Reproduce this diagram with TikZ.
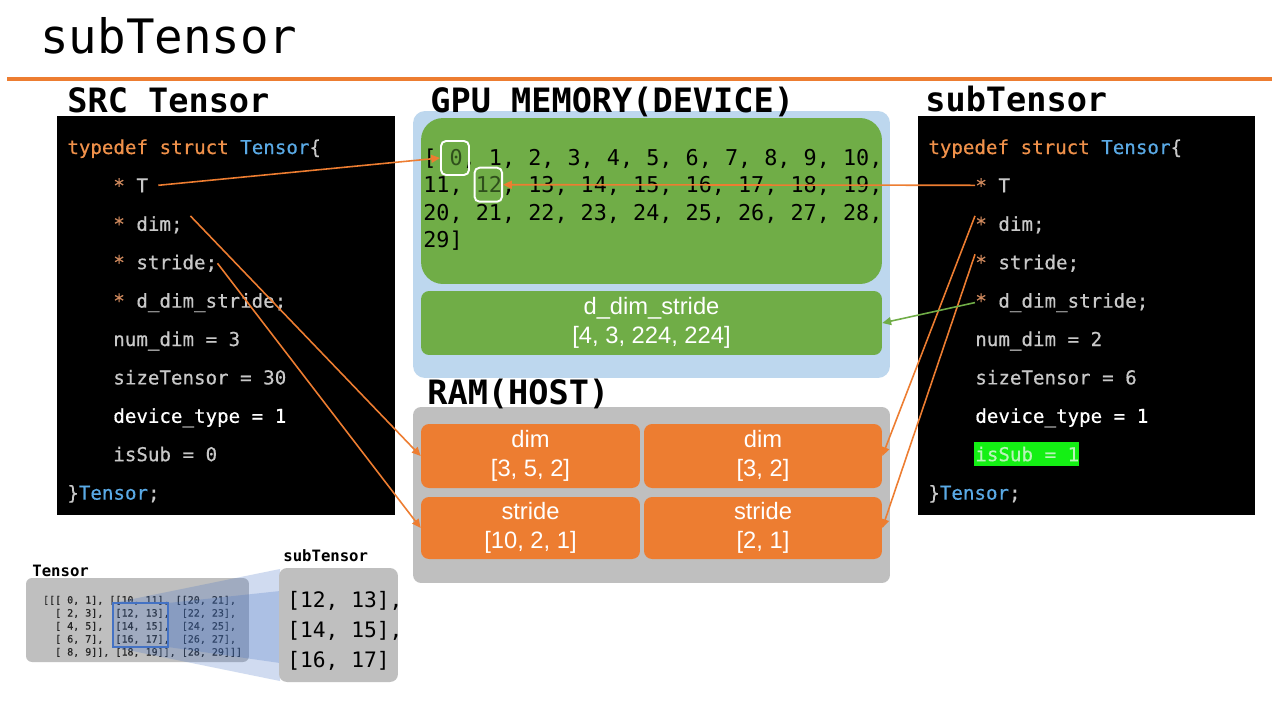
\documentclass[tikz,border=0pt]{standalone}
\usepackage{fontspec}
\newfontfamily\mono{DejaVu Sans Mono}
\newfontfamily\codefont[FakeBold=0.5]{DejaVu Sans Mono}
\newfontfamily\lab{Liberation Sans}
\usetikzlibrary{arrows.meta}
\definecolor{orng}{HTML}{ED7D31}
\definecolor{kw}{HTML}{F0914A}
\definecolor{star}{HTML}{D08A5E}
\definecolor{tblue}{HTML}{5AAAE6}
\definecolor{cgray}{HTML}{C8C8C8}
\definecolor{gpublue}{HTML}{BDD7EE}
\definecolor{gpugreen}{HTML}{70AD47}
\definecolor{dkgreen}{HTML}{2F4F1C}
\definecolor{ramgray}{HTML}{BFBFBF}
\definecolor{hlgreen}{HTML}{14F014}
\definecolor{hltext}{HTML}{B8F5B8}
\definecolor{zblue}{HTML}{4472C4}
\begin{document}
\begin{tikzpicture}[x=0.02cm,y=-0.02cm]
\tikzset{
  code/.style={anchor=base west, inner sep=0pt, font=\codefont\fontsize{10.9}{13}\selectfont, text=cgray},
  head/.style={anchor=base west, inner sep=0pt, font=\mono\bfseries\fontsize{19.1}{22}\selectfont},
  arrtxt/.style={anchor=base west, inner sep=0pt, font=\mono\fontsize{12.4}{15}\selectfont, text=black},
  mtx/.style={anchor=base west, inner sep=0pt, font=\codefont\fontsize{5.7}{7}\selectfont, text=black!85},
  bigmtx/.style={anchor=base west, inner sep=0pt, font=\mono\fontsize{12.1}{14}\selectfont, text=black},
  smallhead/.style={anchor=base west, inner sep=0pt, font=\mono\bfseries\fontsize{8.9}{10}\selectfont},
  panel/.style={fill=black, inner sep=0pt},
  membox/.style={inner sep=0pt, align=center, text=white, font=\lab\fontsize{13.5}{16.2}\selectfont},
  valbox/.style={draw=white, line width=1.1pt, rounded corners=0.1cm, inner sep=0pt, minimum width=0.56cm, minimum height=0.68cm},
  link/.style={draw=orng, line width=0.9pt, -{Triangle[length=5pt,width=4.5pt]}},
  glink/.style={draw=gpugreen, line width=0.9pt, -{Triangle[length=5pt,width=4.5pt]}},
}
\useasboundingbox[fill=white] (0,0) rectangle (1280,720);

% title and rule
\node[anchor=base west, inner sep=0pt, font=\mono\fontsize{27}{30}\selectfont] (title) at (40,53) {subTensor};
\draw[orng, line width=2.2pt] (7,79) -- (1272,79);

% GPU memory
\node[fill=gpublue, rounded corners=0.24cm, minimum width=9.54cm, minimum height=5.34cm, inner sep=0pt] (gpu) at (651.5,244.5) {};
\node[fill=gpugreen, rounded corners=0.44cm, minimum width=9.22cm, minimum height=3.32cm, inner sep=0pt] (arrbox) at (651.5,201) {};
\node[membox, fill=gpugreen, rounded corners=0.16cm, minimum width=9.22cm, minimum height=1.28cm] (dds) at (651.5,323) {d\_dim\_stride\\{}[4, 3, 224, 224]};

\node[arrtxt] (a1) at (423,165) {[ \textcolor{dkgreen}{0}, 1, 2, 3, 4, 5, 6, 7, 8, 9, 10,};
\node[arrtxt] (a2) at (423,192.5) {11, \textcolor{dkgreen}{12}, 13, 14, 15, 16, 17, 18, 19,};
\node[arrtxt] (a3) at (423,220) {20, 21, 22, 23, 24, 25, 26, 27, 28,};
\node[arrtxt] (a4) at (423,247.5) {29]};
\node[valbox] (zero) at (455,158) {};
\node[valbox, minimum width=0.55cm] (twelve) at (488.3,184.7) {};

% RAM
\node[fill=ramgray, rounded corners=0.16cm, minimum width=9.54cm, minimum height=3.52cm, inner sep=0pt] (ram) at (651.5,495) {};
\node[membox, fill=orng, rounded corners=0.16cm, minimum width=4.38cm, minimum height=1.28cm] (dimL) at (530.5,456) {dim\\{}[3, 5, 2]};
\node[membox, fill=orng, rounded corners=0.16cm, minimum width=4.76cm, minimum height=1.28cm] (dimR) at (763,456) {dim\\{}[3, 2]};
\node[membox, fill=orng, rounded corners=0.16cm, minimum width=4.38cm, minimum height=1.24cm] (strL) at (530.5,528) {stride\\{}[10, 2, 1]};
\node[membox, fill=orng, rounded corners=0.16cm, minimum width=4.76cm, minimum height=1.24cm] (strR) at (763,528) {stride\\{}[2, 1]};

% SRC Tensor panel
\node[panel, minimum width=6.76cm, minimum height=7.98cm] (srcpanel) at (226,315.5) {};
\node[code] (l0) at (67,154) {\textcolor{kw}{typedef struct} \textcolor{tblue}{Tensor}\{};
\node[code] (lT) at (113,192.4) {\textcolor{star}{*} T};
\node[code] (ldim) at (113,230.8) {\textcolor{star}{*} dim;};
\node[code] (lstr) at (113,269.2) {\textcolor{star}{*} stride;};
\node[code] (ldds) at (113,307.6) {\textcolor{star}{*} d\_dim\_stride;};
\node[code] (lnum) at (113,346) {num\_dim = 3};
\node[code] (lsize) at (113,384.4) {sizeTensor = 30};
\node[code, text=white] (ldev) at (113,422.8) {device\_type = 1};
\node[code] (lsub) at (113,461.2) {isSub = 0};
\node[code] (lend) at (67,499.6) {\}\textcolor{tblue}{Tensor};};

% subTensor panel
\node[panel, minimum width=6.74cm, minimum height=7.98cm] (subpanel) at (1086.5,315.5) {};
\node[code] (r0) at (928,154) {\textcolor{kw}{typedef struct} \textcolor{tblue}{Tensor}\{};
\node[code] (rT) at (975,192.4) {\textcolor{star}{*} T};
\node[code] (rdim) at (975,230.8) {\textcolor{star}{*} dim;};
\node[code] (rstr) at (975,269.2) {\textcolor{star}{*} stride;};
\node[code] (rdds) at (975,307.6) {\textcolor{star}{*} d\_dim\_stride;};
\node[code] (rnum) at (975,346) {num\_dim = 2};
\node[code] (rsize) at (975,384.4) {sizeTensor = 6};
\node[code, text=white] (rdev) at (975,422.8) {device\_type = 1};
\node[fill=hlgreen, inner sep=0pt, minimum width=2.1cm, minimum height=0.48cm] (hl) at (1026.5,454) {};
\node[code, text=hltext] (rsub) at (975,461.2) {isSub = 1};
\node[code] (rend) at (928,499.6) {\}\textcolor{tblue}{Tensor};};

% headings (drawn over the boxes)
\node[head] (hsrc) at (67,112) {SRC Tensor};
\node[head] (hgpu) at (430,112) {GPU MEMORY(DEVICE)};
\node[head] (hsub) at (925,111) {subTensor};
\node[head] (hram) at (427,404) {RAM(HOST)};

% connectors
\draw[link] ([xshift=0.2cm]lT.east) -- (zero.west);
\draw[link] ([xshift=0.15cm]ldim.north east) -- (dimL.west);
\draw[link] (lstr.east) -- (strL.west);
\draw[link] (rT.west) -- (twelve.east);
\draw[link] (rdim.north west) -- (dimR.east);
\draw[link] (rstr.north west) -- (strR.east);
\draw[glink] (rdds.west) -- (dds.east);

% bottom-left zoom illustration
\node[smallhead] (tlabel) at (32,576) {Tensor};
\node[fill=ramgray, rounded corners=0.12cm, minimum width=4.46cm, minimum height=1.68cm, inner sep=0pt] (tbox) at (137.5,620) {};
\node[mtx] (m1) at (42.7,603.5) {[[[ 0, 1], [[10, 11], [[20, 21],};
\node[mtx] (m2) at (54.8,616.5) {[ 2, 3],~~[12, 13],~~[22, 23],};
\node[mtx] (m3) at (54.8,629.5) {[ 4, 5],~~[14, 15],~~[24, 25],};
\node[mtx] (m4) at (54.8,642.5) {[ 6, 7],~~[16, 17],~~[26, 27],};
\node[mtx] (m5) at (54.8,655.5) {[ 8, 9]], [18, 19]], [28, 29]]]};
\fill[zblue, opacity=0.25] (113,603) -- (280,569) -- (280,681) -- (113,647) -- cycle;
\fill[zblue, opacity=0.25] (168,603) -- (280,591) -- (280,663) -- (168,647) -- cycle;
\node[draw=zblue, line width=1.1pt, inner sep=0pt, minimum width=1.1cm, minimum height=0.88cm] (sel) at (140.5,625) {};
\node[smallhead] (slabel) at (283,561) {subTensor};
\node[fill=ramgray, rounded corners=0.16cm, minimum width=2.38cm, minimum height=2.28cm, inner sep=0pt] (sbox) at (338.5,625) {};
\node[bigmtx] (s1) at (287,607.5) {[12, 13],};
\node[bigmtx] (s2) at (287,637.5) {[14, 15],};
\node[bigmtx] (s3) at (287,667.5) {[16, 17]};
\end{tikzpicture}
\end{document}
